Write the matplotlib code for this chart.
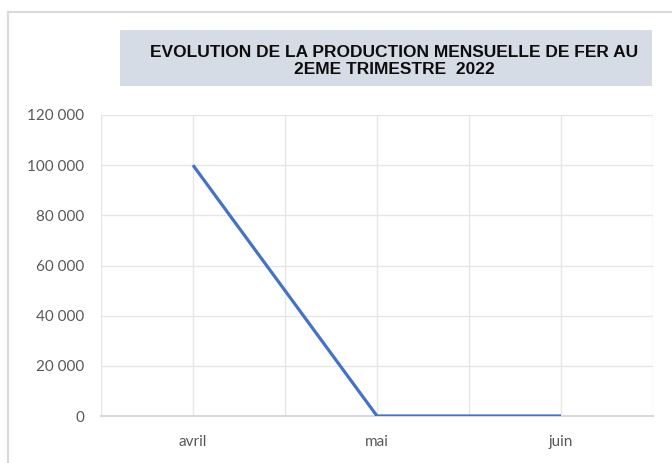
import matplotlib.pyplot as plt
from matplotlib.patches import Rectangle
from matplotlib.ticker import FuncFormatter, MultipleLocator

mois = ['avril', 'mai', 'juin']
production = [100000, 0, 0]

fig = plt.figure(figsize=(6.72, 4.63), dpi=100)

# outer chart border (left and top visible)
fig.add_artist(plt.Line2D([8 / 672, 8 / 672], [0, 1 - 12 / 463], color='#D9D9D9', lw=1.5))
fig.add_artist(plt.Line2D([8 / 672, 1], [1 - 12 / 463, 1 - 12 / 463], color='#D9D9D9', lw=1.5))

# title box
fig.add_artist(Rectangle((120 / 672, 1 - 86 / 463), (652 - 120) / 672, (86 - 30) / 463,
                         transform=fig.transFigure, facecolor='#D6DCE5', edgecolor='none'))
fig.text(394 / 672, 1 - 61 / 463,
         'EVOLUTION DE LA PRODUCTION MENSUELLE DE FER AU\n2EME TRIMESTRE  2022',
         ha='center', va='center', fontsize=12.5, fontweight='bold',
         family='Liberation Sans', color='#0D0D0D', linespacing=1.1)

ax = fig.add_axes([101 / 672, 1 - 416 / 463, (653 - 101) / 672, (416 - 115) / 463])
x = [i + 0.5 for i in range(len(mois))]
ax.plot(x, production, color='#4472C4', lw=2.3, solid_capstyle='butt', zorder=3)

ax.set_xlim(0, 3)
ax.set_ylim(0, 120000)
ax.set_xticks(x)
ax.set_xticklabels(mois)
ax.xaxis.set_minor_locator(MultipleLocator(0.5))
ax.yaxis.set_major_locator(MultipleLocator(20000))
ax.yaxis.set_major_formatter(FuncFormatter(lambda v, p: f'{int(v):,}'.replace(',', ' ')))

ax.grid(True, which='both', axis='x', color='#E6E6E6', lw=1)
ax.grid(True, which='major', axis='y', color='#E6E6E6', lw=1)
ax.set_axisbelow(True)

for s in ['top', 'right', 'left']:
    ax.spines[s].set_visible(False)
ax.spines['bottom'].set_color('#D9D9D9')
ax.spines['bottom'].set_linewidth(1.5)

ax.tick_params(axis='both', which='both', length=0, labelsize=11, labelcolor='#595959')
ax.tick_params(axis='x', pad=14)
ax.tick_params(axis='y', pad=12)
for lab in ax.get_xticklabels() + ax.get_yticklabels():
    lab.set_family('Lato')

fig.savefig('out.png', dpi=100)
